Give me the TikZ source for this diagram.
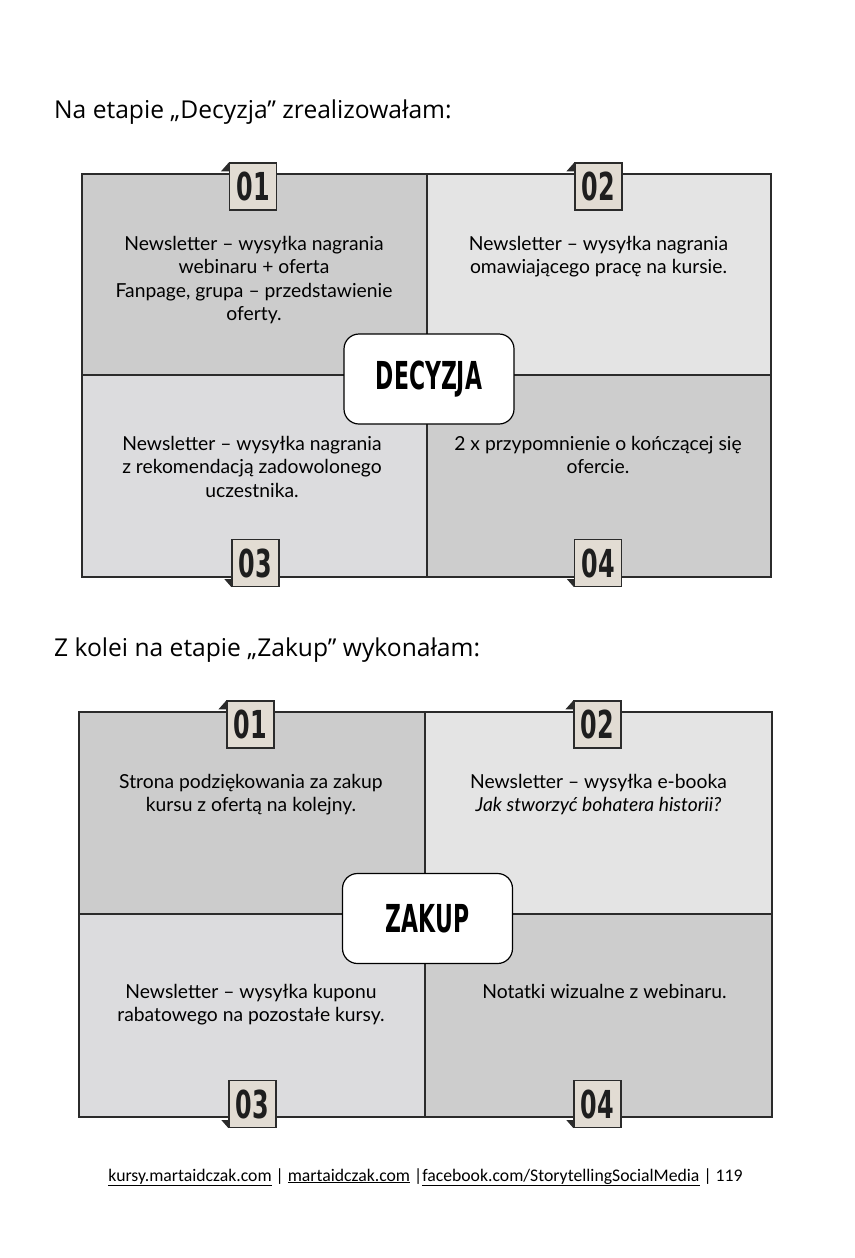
\documentclass[tikz,border=0pt]{standalone}
\usepackage{fontspec}
\setmainfont{Lato}
\newfontfamily\headfont{Open Sans}
\newfontfamily\footfont{Carlito}
\newfontfamily\tagfont[FakeStretch=0.62]{DejaVu Sans}
\newfontfamily\hubfont[FakeStretch=0.57]{DejaVu Sans}
\definecolor{QuadDark}{HTML}{CCCCCC}
\definecolor{QuadLight}{HTML}{E4E4E4}
\definecolor{QuadMid}{HTML}{DCDCDE}
\definecolor{QuadDarkB}{HTML}{CDCDCD}
\definecolor{TagFill}{HTML}{E2DCD3}
\definecolor{TagText}{HTML}{1E1E1E}
\definecolor{GridLine}{HTML}{2B2B2B}
\tikzset{
  tagbox/.style={draw=GridLine,line width=1.2pt,fill=TagFill,
    minimum width=47pt,minimum height=47pt,inner sep=0pt,text=TagText,
    font=\tagfont\bfseries\fontsize{38.5}{38.5}\selectfont},
  hubbox/.style={draw=black,line width=1.2pt,fill=white,rounded corners=15pt,
    minimum width=170pt,minimum height=90pt,inner sep=0pt,
    font=\hubfont\bfseries\fontsize{38.5}{38.5}\selectfont},
  cardtext/.style={align=center,anchor=north,inner sep=0pt,
    font=\fontsize{19.3}{23.4}\selectfont},
  heading/.style={anchor=base west,inner sep=0pt,
    font=\headfont\fontsize{24.6}{28}\selectfont},
  gridline/.style={draw=GridLine,line width=1.2pt}
}

\begin{document}
\begin{tikzpicture}[x=1pt,y=-1pt]
  \useasboundingbox[fill=white] (0,0) rectangle (854,1258);

  % headings
  \node[heading] (head-decyzja) at (54,118) {Na etapie „Decyzja” zrealizowałam:};
  \node[heading] (head-zakup) at (54,656) {Z kolei na etapie „Zakup” wykonałam:};

  % ---- Decyzja grid
  \fill[QuadDark]  (82,174) rectangle (427,375);
  \fill[QuadLight] (427,174) rectangle (771,375);
  \fill[QuadMid]   (82,375) rectangle (427,577);
  \fill[QuadDarkB] (427,375) rectangle (771,577);
  \draw[gridline] (82,174) rectangle (771,577);
  \draw[gridline] (427,174) -- (427,577);
  \draw[gridline] (82,375) -- (771,375);

  \node[cardtext] (d-text1) at (254,236)
    {Newsletter – wysyłka nagrania\\ webinaru + oferta\\
     Fanpage, grupa – przedstawienie\\ oferty.};
  \node[cardtext] (d-text2) at (598.5,236)
    {Newsletter – wysyłka nagrania\\ omawiającego pracę na kursie.};
  \node[cardtext] (d-text3) at (252,436)
    {Newsletter – wysyłka nagrania\\ z rekomendacją zadowolonego\\ uczestnika.};
  \node[cardtext] (d-text4) at (598,436)
    {2 x przypomnienie o kończącej się\\ ofercie.};

  \node[hubbox] (d-hub) at (429,379) {DECYZJA};

  % ---- Zakup grid
  \fill[QuadDark]  (79,712) rectangle (425,914);
  \fill[QuadLight] (425,712) rectangle (772,914);
  \fill[QuadMid]   (79,914) rectangle (425,1117);
  \fill[QuadDarkB] (425,914) rectangle (772,1117);
  \draw[gridline] (79,712) rectangle (772,1117);
  \draw[gridline] (425,712) -- (425,1117);
  \draw[gridline] (79,914) -- (772,914);

  \node[cardtext] (z-text1) at (251,774)
    {Strona podziękowania za zakup\\ kursu z ofertą na kolejny.};
  \node[cardtext] (z-text2) at (598.5,774)
    {Newsletter – wysyłka e-booka\\ \textit{Jak stworzyć bohatera historii?}};
  \node[cardtext] (z-text3) at (251,984)
    {Newsletter – wysyłka kuponu\\ rabatowego na pozostałe kursy.};
  \node[cardtext] (z-text4) at (604.5,984)
    {Notatki wizualne z webinaru.};

  \node[hubbox] (z-hub) at (427.5,918.5) {ZAKUP};

  % number tags, top row (fold above the edge)
  \foreach \name/\px/\py/\num in {d1/253/186.5/01,d2/598.5/186.5/02,
    z1/250.5/724.5/01,z2/597.5/724.5/02}{
    \node[tagbox] (tag-\name) at (\px,\py) {\num};
    \fill[GridLine] (tag-\name.north west) -- ++(-8,9) -- ++(8,0) -- cycle;
  }
  % number tags, bottom row (fold below the edge)
  \foreach \name/\px/\py/\num in {d3/255.5/563/03,d4/598/563/04,
    z3/252.5/1104/03,z4/597.5/1104/04}{
    \node[tagbox] (tag-\name) at (\px,\py) {\num};
    \fill[GridLine] (tag-\name.south west) -- ++(-7,-8) -- ++(7,0) -- cycle;
  }

  % footer
  \node[anchor=base,inner sep=0pt,font=\footfont\fontsize{17.7}{20}\selectfont]
    (footer) at (425.5,1181)
    {\underline{kursy.martaidczak.com} | \underline{martaidczak.com}
     |\underline{facebook.com/StorytellingSocialMedia} | 119};
\end{tikzpicture}
\end{document}
